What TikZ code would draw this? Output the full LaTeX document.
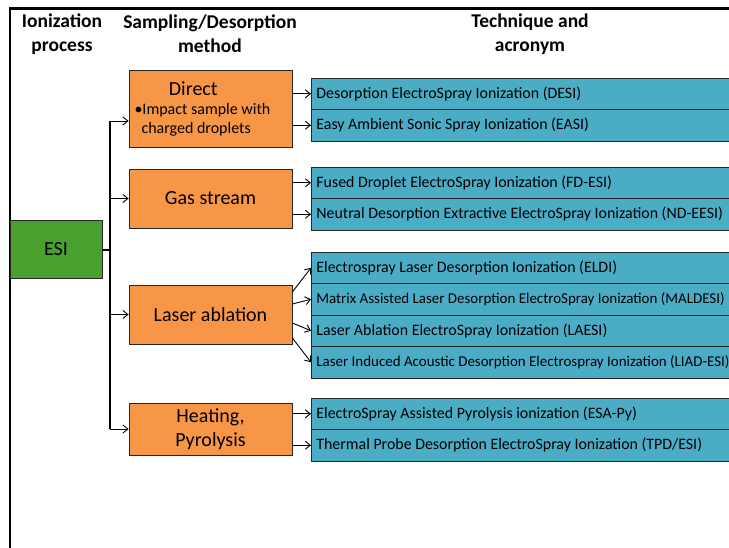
\documentclass[tikz,border=0pt]{standalone}
\usepackage{fontspec}
\setmainfont{Carlito}
\usetikzlibrary{arrows.meta}
\definecolor{esigreen}{HTML}{4A9F2F}
\definecolor{methorange}{HTML}{F79646}
\definecolor{techblue}{HTML}{4BACC6}
\definecolor{edgegray}{HTML}{262626}

\begin{document}
\begin{tikzpicture}[x=1pt, y=-1pt, >={Straight Barb[length=5pt,width=8pt]},
  head/.style={align=center, font=\bfseries\fontsize{19.5}{24}\selectfont},
  esibox/.style={draw=edgegray, thick, fill=esigreen, minimum width=92pt, minimum height=58pt,
    font=\fontsize{20}{24}\selectfont},
  method/.style={draw=edgegray, thick, fill=methorange, minimum width=163pt, align=center,
    font=\fontsize{20}{24}\selectfont},
  tech/.style={draw=edgegray, thick, fill=techblue, anchor=west, text width=600pt, inner xsep=5pt,
    align=flush left, minimum height=31.5pt, font=\fontsize{15.9}{18}\selectfont},
  techlong/.style={tech, font=\fontsize{14.95}{18}\selectfont},
  link/.style={->, line width=0.9pt},
  trunk/.style={line width=2pt}]

% page size of the reference (729 x 547 px)
\clip (0,0) rectangle (729,547);

% outer frame, cut off at right and bottom
\draw[line width=2.5pt] (10,560) -- (10,8.5) -- (740,8.5);

% column heads
\node[head] (hion) at (62,34) {Ionization\\process};
\node[head] (hsamp) at (210,34) {Sampling/Desorption\\method};
\node[head] (htech) at (530,34) {Technique and\\acronym};

% ionization process
\node[esibox] (esi) at (56,249.5) {ESI};

% sampling / desorption methods
\node[method, minimum height=77pt, text width=152pt, inner xsep=5.5pt, align=flush left] (direct) at (210.5,108.5)
  {\hfil Direct\hfil\par
   \fontsize{16}{19}\selectfont
   \textbullet Impact sample with\par
   \hspace*{7pt}charged droplets\par};
\node[method, minimum height=59pt] (gas) at (210.5,198.5) {Gas stream};
\node[method, minimum height=59pt] (laser) at (210.5,314.5) {Laser ablation};
\node[method, minimum height=52pt] (heat) at (210.5,429) {Heating,\\Pyrolysis};

% techniques and acronyms
\node[tech] (desi) at (311,93.75) {Desorption ElectroSpray Ionization (DESI)};
\node[tech] (easi) at (311,125.25) {Easy Ambient Sonic Spray Ionization (EASI)};
\node[tech] (fdesi) at (311,182.75) {Fused Droplet ElectroSpray Ionization (FD-ESI)};
\node[tech] (ndeesi) at (311,214.25) {Neutral Desorption Extractive ElectroSpray Ionization (ND-EESI)};
\node[tech] (eldi) at (311,267.75) {Electrospray Laser Desorption Ionization (ELDI)};
\node[techlong] (maldesi) at (311,299.25) {Matrix Assisted Laser Desorption ElectroSpray Ionization (MALDESI)};
\node[tech] (laesi) at (311,330.75) {Laser Ablation ElectroSpray Ionization (LAESI)};
\node[techlong] (liad) at (311,362.25) {Laser Induced Acoustic Desorption Electrospray Ionization (LIAD-ESI)};
\node[tech] (esapy) at (311,413.75) {ElectroSpray Assisted Pyrolysis ionization (ESA-Py)};
\node[tech] (tpd) at (311,445.25) {Thermal Probe Desorption ElectroSpray Ionization (TPD/ESI)};

% tree from ESI to the methods
\coordinate (jn) at (110,249.5);
\coordinate (dirin) at ([yshift=-12.5pt]direct.west);
\draw[trunk] (esi.east) -- (jn);
\draw[trunk] (dirin -| jn) -- (heat.west -| jn);
\draw[link] (dirin -| jn) -- (dirin);
\draw[link] (gas.west -| jn) -- (gas.west);
\draw[link] (laser.west -| jn) -- (laser.west);
\draw[link] (heat.west -| jn) -- (heat.west);

% methods to techniques
\draw[link] (direct.east |- desi.west) -- (desi.west);
\draw[link] (direct.east |- easi.west) -- (easi.west);
\draw[link] (gas.east |- fdesi.west) -- (fdesi.west);
\draw[link] (gas.east |- ndeesi.west) -- (ndeesi.west);
\draw[link] ([yshift=22.5pt]laser.east) -- (eldi.west);
\draw[link] ([yshift=10.5pt]laser.east) -- (maldesi.west);
\draw[link] ([yshift=-8.5pt]laser.east) -- (laesi.west);
\draw[link] ([yshift=-23.5pt]laser.east) -- (liad.west);
\draw[link] (heat.east |- esapy.west) -- (esapy.west);
\draw[link] (heat.east |- tpd.west) -- (tpd.west);

\end{tikzpicture}
\end{document}
